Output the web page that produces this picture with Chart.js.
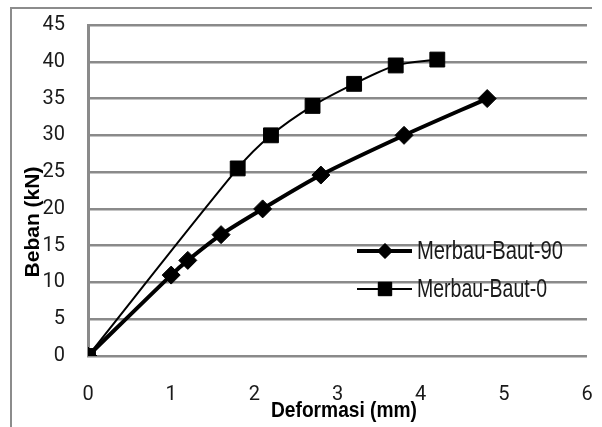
<!DOCTYPE html>
<html>
<head>
<meta charset="utf-8">
<script src="https://cdn.jsdelivr.net/npm/chart.js@4.4.0/dist/chart.umd.min.js"></script>
<style>
  html, body { margin: 0; padding: 0; background: #fff; }
  #wrap { position: relative; width: 602px; height: 427px; }
  #frame { position: absolute; left: 10px; top: 7px; width: 580px; height: 430px;
           border-left: 2px solid #8c8c8c; border-top: 2px solid #8c8c8c; }
  canvas { position: absolute; left: 0; top: 0; }
</style>
</head>
<body>
<div id="wrap">
  <div id="frame"></div>
  <canvas id="chart" width="602" height="427"></canvas>
</div>
<script>
// Data
const baut90X = [0, 1.0, 1.2, 1.6, 2.1, 2.8, 3.8, 4.8];
const baut90Y = [0, 11, 13, 16.5, 20, 24.6, 30, 35];
const baut0X = [0, 1.8, 2.2, 2.7, 3.2, 3.7, 4.2];
const baut0Y = [0, 25.5, 30, 34, 37, 39.5, 40.3];
const seriesNames = ["Merbau-Baut-90", "Merbau-Baut-0"];
const xTitle = "Deformasi (mm)";
const yTitle = "Beban (kN)";

const TICKFONT = "Roboto, 'Liberation Sans', sans-serif";
const WIDE = "'Liberation Sans', sans-serif";
const GRID = "#8a8a8a";

function toPoints(xs, ys) {
  return xs.map((x, i) => ({ x: x, y: ys[i] }));
}

// draw text squeezed to a target width (reference uses a narrow face)
function narrowText(ctx, txt, x, y, width, align) {
  const w = ctx.measureText(txt).width;
  const k = Math.min(1, width / w);
  ctx.save();
  ctx.translate(x, y);
  ctx.scale(k, 1);
  ctx.textAlign = align;
  ctx.fillText(txt, 0, 0);
  ctx.restore();
}

// Legend inside the plot + axis titles
const extras = {
  id: "extras",
  afterDraw(chart) {
    const ctx = chart.ctx;
    ctx.save();
    const items = [
      { y: 251, lw: 4, style: "rectRot", r: 7.5, w: 146 },
      { y: 289, lw: 2, style: "rect", r: 9.5, w: 130 },
    ];
    items.forEach((it, i) => {
      ctx.strokeStyle = "#000";
      ctx.lineWidth = it.lw;
      ctx.beginPath();
      ctx.moveTo(357, it.y);
      ctx.lineTo(412, it.y);
      ctx.stroke();
      ctx.fillStyle = "#000";
      ctx.lineWidth = 1;
      Chart.helpers.drawPoint(ctx, { pointStyle: it.style, radius: it.r, borderWidth: 1 }, 385, it.y);
      ctx.fill();
      ctx.fillStyle = "#1a1a1a";
      ctx.font = "25px " + WIDE;
      ctx.textBaseline = "middle";
      narrowText(ctx, seriesNames[i], 417, it.y + 1, it.w, "left");
    });
    ctx.fillStyle = "#000";
    ctx.font = "bold 22px " + WIDE;
    ctx.textBaseline = "middle";
    narrowText(ctx, xTitle, 344, 411, 146, "center");
    ctx.translate(33, 222);
    ctx.rotate(-Math.PI / 2);
    ctx.font = "bold 21px " + WIDE;
    ctx.textAlign = "center";
    ctx.fillText(yTitle, 0, 0);
    ctx.restore();
  },
};

new Chart(document.getElementById("chart"), {
  type: "line",
  data: {
    datasets: [
      {
        label: seriesNames[0],
        data: toPoints(baut90X, baut90Y),
        borderColor: "#000",
        backgroundColor: "#000",
        borderWidth: 4,
        pointStyle: "rectRot",
        pointRadius: 9,
        pointBorderWidth: 1,
        tension: 0.3,
      },
      {
        label: seriesNames[1],
        data: toPoints(baut0X, baut0Y),
        borderColor: "#000",
        backgroundColor: "#000",
        borderWidth: 2,
        pointStyle: "rect",
        pointRadius: 10.5,
        pointBorderWidth: 1,
        tension: 0.3,
      },
    ],
  },
  options: {
    responsive: false,
    animation: false,
    layout: { padding: { top: 25, right: 15, left: 0, bottom: 0 } },
    plugins: { legend: { display: false }, tooltip: { enabled: false } },
    scales: {
      x: {
        type: "linear",
        min: 0,
        max: 6,
        ticks: { stepSize: 1, color: "#1a1a1a", font: { family: TICKFONT, size: 20 }, padding: 27 },
        grid: { display: false, drawTicks: false },
        border: { display: false },
        afterFit(s) { s.height = 71; s.paddingLeft = 0; s.paddingRight = 0; },
      },
      y: {
        min: 0,
        max: 45,
        ticks: { stepSize: 5, color: "#1a1a1a", font: { family: TICKFONT, size: 20 }, padding: 23 },
        grid: { color: GRID, lineWidth: 2.5, drawTicks: false },
        border: { display: true, color: GRID, width: 3 },
        afterFit(s) { s.width = 88; s.paddingTop = 0; s.paddingBottom = 0; },
      },
    },
  },
  plugins: [extras],
});
</script>
</body>
</html>
